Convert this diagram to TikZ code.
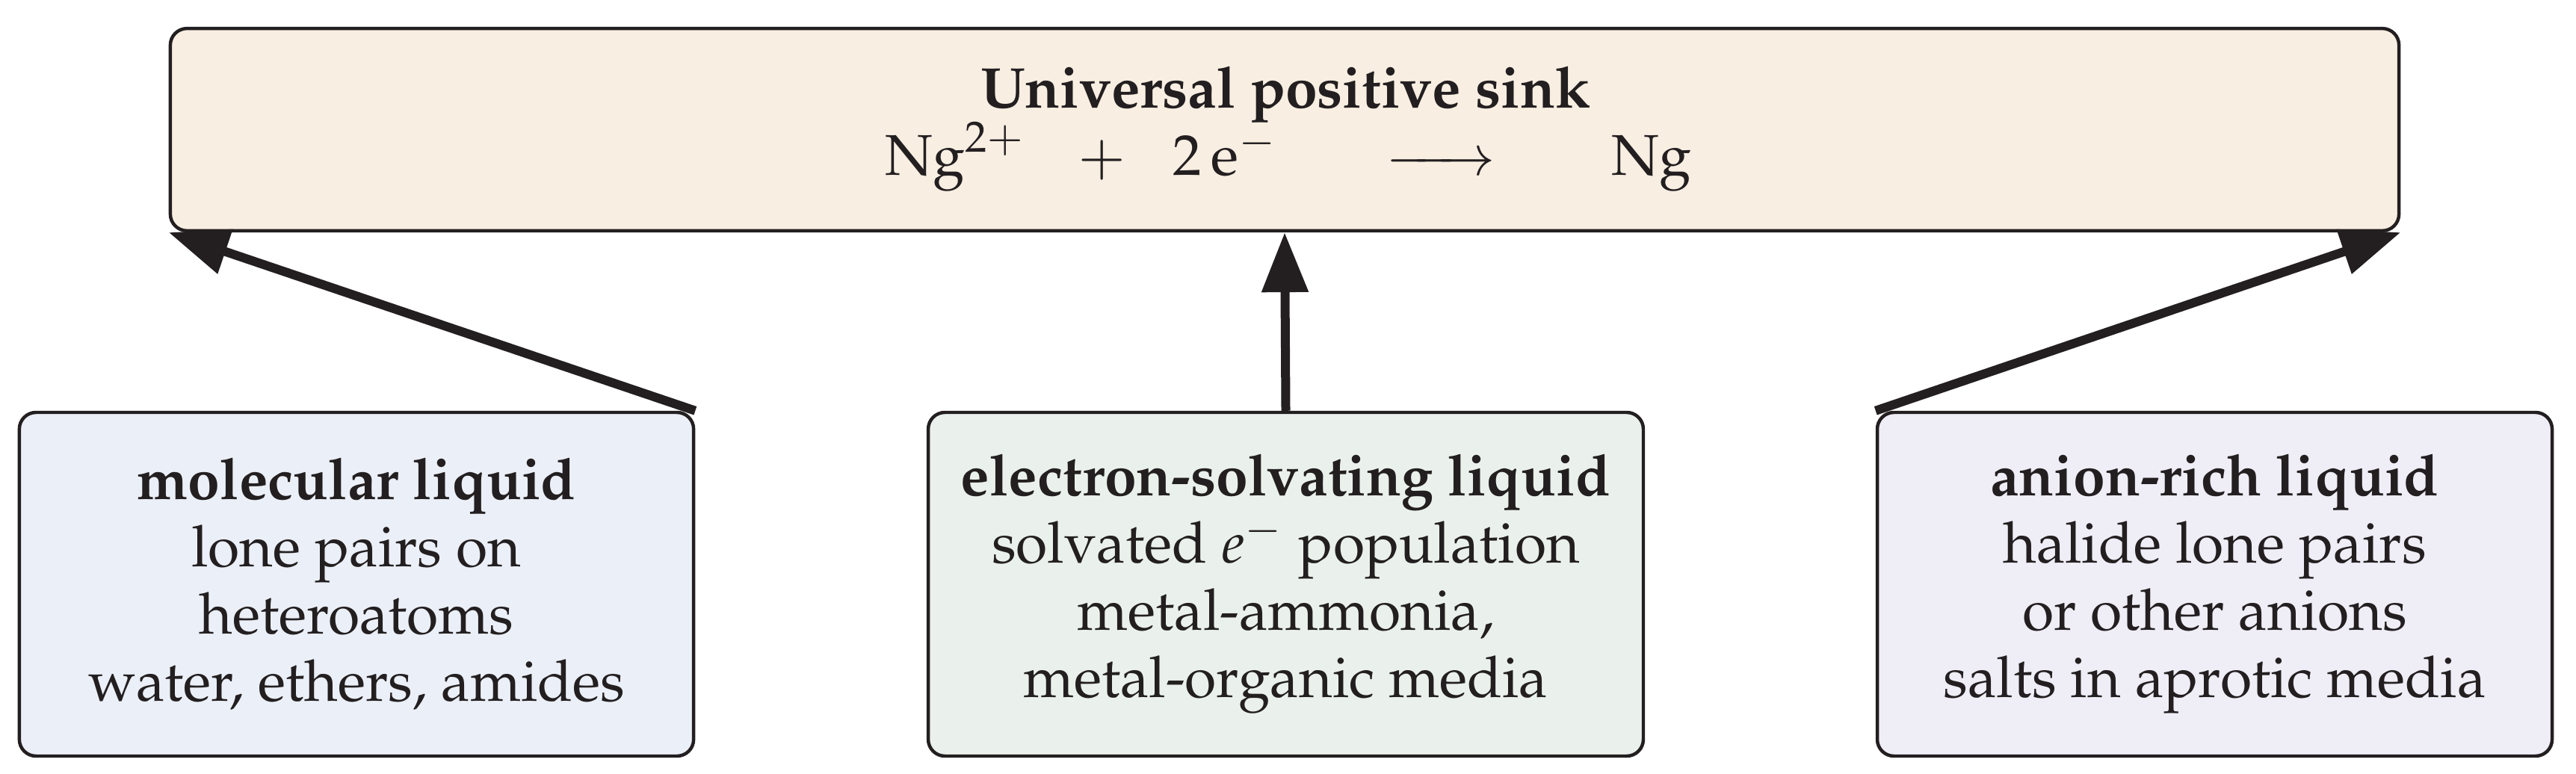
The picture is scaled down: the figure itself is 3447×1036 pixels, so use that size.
\documentclass[tikz,border=0pt]{standalone}
\usepackage[T1]{fontenc}
\usepackage{mathpazo}
\usetikzlibrary{arrows.meta}
\DeclareSymbolFont{cmsyfont}{OMS}{cmsy}{m}{n}
\DeclareMathSymbol{\cmminus}{\mathrel}{cmsyfont}{"00}
\DeclareMathSymbol{\cmrightarrow}{\mathrel}{cmsyfont}{"21}
\definecolor{ink}{HTML}{231F20}
\definecolor{topfill}{HTML}{F8EEE2}
\definecolor{molfill}{HTML}{EBEFF7}
\definecolor{elefill}{HTML}{EAF1EC}
\definecolor{anifill}{HTML}{EFEDF6}
\begin{document}
\begin{tikzpicture}[x=0.13pt,y=-0.13pt,
  box/.style={draw=ink, line width=0.58pt, rounded corners=2.9pt, inner sep=0pt,
    align=center, text=ink, font=\fontsize{10}{11.7}\selectfont},
  srcbox/.style={box, minimum height=59.8pt},
  lbl/.style={inner sep=0pt, text=ink, font=\fontsize{10}{11.7}\selectfont},
  conn/.style={draw=ink, line width=1.56pt, -{Triangle[length=10.4pt,width=7.8pt]}}]
\useasboundingbox (0,0) rectangle (3447,1036);
\node[box, fill=topfill, minimum width=387.7pt, minimum height=35.2pt] (sink) at (1719,173.5) {};
\node[lbl, anchor=base] (title) at (1720,145) {\textbf{Universal positive sink}};
\node[lbl, anchor=base west] (ion) at (1183,235) {$\mathrm{Ng}^{2+}$};
\node[lbl, anchor=base west] (plus) at (1441,235) {$+$};
\node[lbl, anchor=base west] (elec) at (1568,235) {$2\,\mathrm{e}^{-}$};
\node[lbl, anchor=base east] (react) at (2002,235) {$\cmminus\mkern-6mu\cmminus\mkern-6mu\cmrightarrow$};
\node[lbl, anchor=base west] (metal) at (2155,235) {$\mathrm{Ng}$};
\node[srcbox, fill=molfill, minimum width=117.3pt] (mol) at (477,782)
  {\textbf{molecular liquid}\\ lone pairs on\\ heteroatoms\\ water, ethers, amides};
\node[srcbox, fill=elefill, minimum width=124.4pt] (ele) at (1720.5,782)
  {\textbf{electron-solvating liquid}\\ solvated $e^{-}$ population\\ metal-ammonia,\\ metal-organic media};
\node[srcbox, fill=anifill, minimum width=117.4pt] (ani) at (2963.5,782)
  {\textbf{anion-rich liquid}\\ halide lone pairs\\ or other anions\\ salts in aprotic media};
\draw[conn] (mol.north east) -- (sink.south west);
\draw[conn] (ele.north) -- (sink.south);
\draw[conn] (ani.north west) -- (sink.south east);
\end{tikzpicture}
\end{document}
